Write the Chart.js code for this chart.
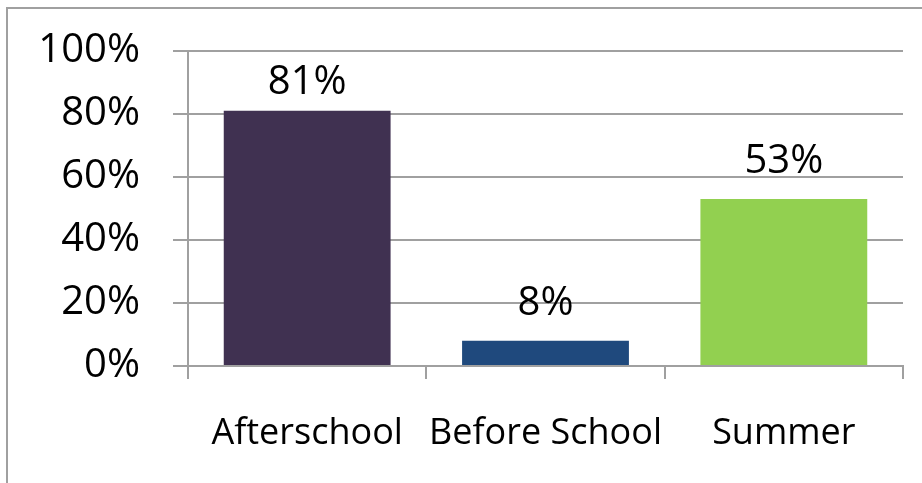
<!DOCTYPE html>
<html>
<head>
<meta charset="utf-8">
<script src="https://cdn.jsdelivr.net/npm/chart.js@4/dist/chart.umd.min.js"></script>
<style>
  html, body { margin: 0; padding: 0; background: #fff; }
  #wrap { width: 922px; height: 483px; }
</style>
</head>
<body>
<div id="wrap"><canvas id="c" width="922" height="483"></canvas></div>
<script>
// Share of programs by time of operation
const categories = ['Afterschool', 'Before School', 'Summer'];
const shares = [0.81, 0.08, 0.53];
const barColors = ['#403151', '#1F497D', '#92D050'];
const yTicks = [0, 0.2, 0.4, 0.6, 0.8, 1.0];

const FONT = '"Open Sans", "Liberation Sans", sans-serif';
const LINE = '#a0a0a0';

const pct = v => Math.round(v * 100) + '%';

// Thin gray frame around the whole chart
const framePlugin = {
  id: 'frame',
  beforeDraw(chart) {
    const ctx = chart.ctx;
    ctx.save();
    ctx.fillStyle = '#fff';
    ctx.fillRect(0, 0, chart.width, chart.height);
    ctx.strokeStyle = LINE;
    ctx.lineWidth = 2;
    ctx.beginPath();
    ctx.moveTo(7, chart.height + 2);
    ctx.lineTo(7, 8);
    ctx.lineTo(chart.width + 2, 8);
    ctx.stroke();
    ctx.restore();
  }
};

// Value labels above each bar, kept inside the plot area
const valueLabels = {
  id: 'valueLabels',
  afterDatasetsDraw(chart) {
    const ctx = chart.ctx;
    const meta = chart.getDatasetMeta(0);
    const area = chart.chartArea;
    ctx.save();
    ctx.font = '40px ' + FONT;
    ctx.fillStyle = '#000';
    ctx.textAlign = 'center';
    ctx.textBaseline = 'alphabetic';
    meta.data.forEach((bar, i) => {
      const y = Math.max(bar.y - 26, area.top + 43);
      ctx.fillText(pct(shares[i]), bar.x, y);
    });
    ctx.restore();
  }
};

document.fonts.load('40px "Open Sans"').finally(() => {
  new Chart(document.getElementById('c'), {
    type: 'bar',
    data: {
      labels: categories,
      datasets: [{
        data: shares,
        backgroundColor: barColors,
        borderWidth: 0,
        barPercentage: 0.7,
        categoryPercentage: 1.0
      }]
    },
    options: {
      responsive: false,
      animation: false,
      devicePixelRatio: 1,
      layout: { padding: { top: 51, right: 19, left: 0, bottom: 0 } },
      plugins: {
        legend: { display: false },
        tooltip: { enabled: false },
        title: { display: false }
      },
      scales: {
        x: {
          grid: {
            display: true,
            drawOnChartArea: false,
            drawTicks: true,
            offset: true,
            tickLength: 13,
            color: LINE,
            lineWidth: 2
          },
          border: { display: true, color: LINE, width: 2 },
          ticks: {
            font: { family: FONT, size: 36 },
            color: '#000',
            padding: 33,
            maxRotation: 0,
            autoSkip: false
          },
          afterFit(s) { s.height = 117; s.paddingLeft = 0; s.paddingRight = 0; }
        },
        y: {
          min: 0,
          max: 1,
          afterBuildTicks(s) { s.ticks = yTicks.map(v => ({ value: v })); },
          grid: {
            color: LINE,
            lineWidth: 2,
            tickLength: 15,
            drawTicks: true
          },
          border: { display: true, color: LINE, width: 2 },
          ticks: {
            font: { family: FONT, size: 40 },
            color: '#000',
            padding: 33,
            callback: v => pct(v)
          },
          afterFit(s) { s.width = 188; s.paddingTop = 0; s.paddingBottom = 0; }
        }
      }
    },
    plugins: [framePlugin, valueLabels]
  });
});
</script>
</body>
</html>
